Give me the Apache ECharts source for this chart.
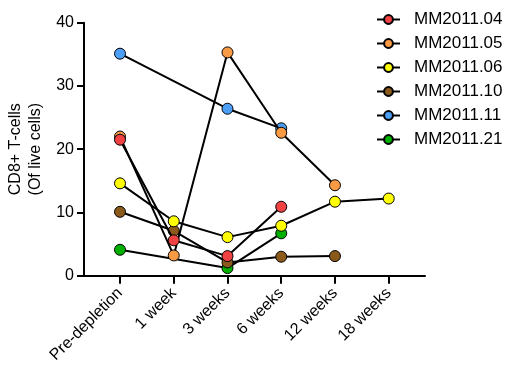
<!DOCTYPE html>
<html><head><meta charset="utf-8">
<script src="https://cdn.jsdelivr.net/npm/echarts@6/dist/echarts.min.js"></script>
<style>html,body{margin:0;padding:0;background:#fff}#c{width:517px;height:365px}</style>
</head><body><div id="c"></div>
<script>
var categories = ['Pre-depletion', '1 week', '3 weeks', '6 weeks', '12 weeks', '18 weeks'];
var seriesNames = ['MM2011.04', 'MM2011.05', 'MM2011.06', 'MM2011.10', 'MM2011.11', 'MM2011.21'];
var seriesColors = ['#f04242', '#f99a45', '#ffff00', '#8b5a1b', '#4d9ef5', '#00b000'];
var mm04 = [21.5, 5.6, 3.1, 10.9, null, null];
var mm05 = [22.0, 3.2, 35.3, 22.6, 14.3, null];
var mm06 = [14.6, 8.6, 6.1, 7.9, 11.7, 12.2];
var mm10 = [10.1, 7.1, 2.1, 3.0, 3.1, null];
var mm11 = [35.1, null, 26.4, 23.3, null, null];
var mm21 = [4.1, null, 1.2, 6.7, null, null];
var yTicks = [0, 10, 20, 30, 40];

var allValues = [mm04, mm05, mm06, mm10, mm11, mm21];
var tickIdx = categories.map(function (c, i) { return i; });

var series = allValues.map(function (vals, s) {
  var data = [];
  vals.forEach(function (v, i) { if (v !== null) data.push([i, v]); });
  return {
    name: seriesNames[s],
    type: 'line',
    data: data,
    z: 10 - s,
    symbol: 'circle',
    symbolSize: 11,
    lineStyle: { color: '#000', width: 2 },
    itemStyle: { color: seriesColors[s], borderColor: '#000', borderWidth: 1 },
    emphasis: { disabled: true },
    animation: false
  };
});

var chart = echarts.init(document.getElementById('c'), null, { renderer: 'canvas' });
chart.setOption({
  backgroundColor: '#fff',
  animation: false,
  textStyle: { fontFamily: 'Liberation Sans, Arial, sans-serif' },
  grid: { left: 84, right: 92, top: 22.7, bottom: 89.3, containLabel: false, outerBoundsMode: 'none' },
  legend: {
    orient: 'vertical',
    left: 376,
    top: 11,
    padding: 0,
    itemWidth: 23,
    itemHeight: 11,
    itemGap: 7,
    data: seriesNames,
    textStyle: { fontSize: 17, color: '#000', lineHeight: 17, padding: [0, 0, 0, 9], fontFamily: 'Liberation Sans, Arial, sans-serif' },
    selectedMode: false
  },
  xAxis: {
    type: 'value',
    min: -0.67,
    max: 5.675,
    splitLine: { show: false },
    axisLine: { show: true, onZero: false, lineStyle: { color: '#000', width: 2 } },
    axisTick: { show: true, customValues: tickIdx, length: 8, lineStyle: { color: '#000', width: 2 } },
    axisLabel: {
      customValues: tickIdx,
      rotate: 45,
      margin: 15,
      fontSize: 16,
      color: '#000',
      formatter: function (v) { return categories[Math.round(v)]; }
    }
  },
  yAxis: {
    type: 'value',
    min: 0,
    max: 40,
    interval: 10,
    name: 'CD8+ T-cells\n(Of live cells)',
    nameLocation: 'middle',
    nameRotate: 90,
    nameGap: 36,
    nameTextStyle: { fontSize: 16, color: '#000', lineHeight: 20, align: 'center' },
    splitLine: { show: false },
    axisLine: { show: true, onZero: false, lineStyle: { color: '#000', width: 2 } },
    axisTick: { show: true, length: 7, lineStyle: { color: '#000', width: 2 } },
    axisLabel: { fontSize: 16, color: '#000', margin: 10,
      formatter: function (v) { return yTicks.indexOf(v) >= 0 ? String(v) : ''; } }
  },
  series: series
});
</script>
</body></html>
